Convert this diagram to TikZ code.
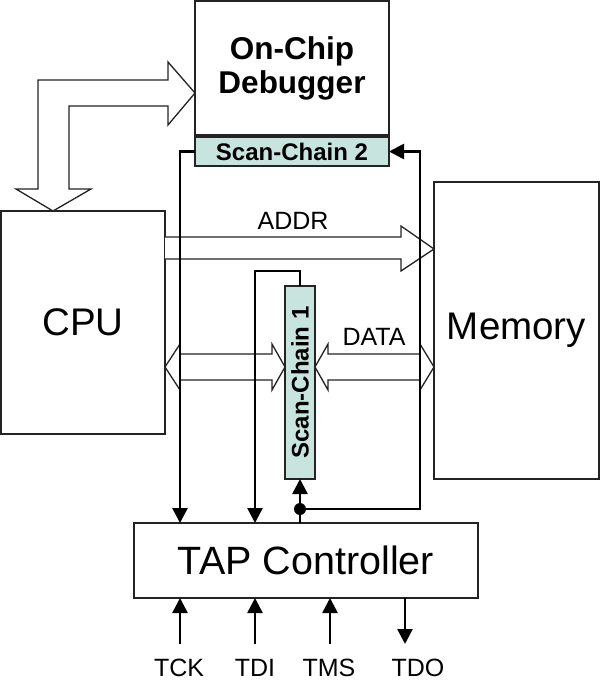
\documentclass[tikz,border=0pt]{standalone}
\usepackage{fontspec}
\setmainfont{Liberation Sans}
\usetikzlibrary{arrows.meta,calc}
\definecolor{scanfill}{RGB}{200,228,222}
\definecolor{edge}{RGB}{35,35,35}
\tikzset{
  box/.style={draw=edge, line width=1.3pt, fill=white, inner sep=0pt, outer sep=0pt},
  scanbox/.style={draw=edge, line width=1.3pt, fill=scanfill, inner sep=0pt, outer sep=0pt, font=\fontsize{24}{26}\selectfont\bfseries},
  bigtext/.style={font=\fontsize{38.5}{40}\selectfont},
  lbl/.style={font=\fontsize{25}{27}\selectfont, inner sep=0pt},
  blockarrow/.style={draw=edge, line width=1.3pt, fill=white, line join=miter},
  sig/.style={draw=black, line width=2.6pt, -{Triangle[length=15pt,width=15pt]}},
}
\begin{document}
\begin{tikzpicture}[x=1pt,y=-1pt]
\useasboundingbox (0,0) rectangle (603,694);
% boxes
\node[box, bigtext, minimum width=164, minimum height=223] (cpu) at (83,322.5) {CPU};
\node[box, bigtext, minimum width=165, minimum height=297] (mem) at (516.5,330.5) {Memory};
\node[box, minimum width=194, minimum height=134, align=center,
      font=\fontsize{31.5}{34}\selectfont\bfseries] (dbg) at (292,68) {On-Chip\\Debugger};
\node[scanbox, minimum width=194, minimum height=29] (sc2) at (292,151.5) {Scan-Chain 2};
\node[scanbox, minimum width=193, minimum height=30, rotate=90] (sc1) at (300,382.5) {Scan-Chain 1};
\node[box, font=\fontsize{39.5}{41}\selectfont, minimum width=344, minimum height=75] (tap) at (306,560.5) {TAP Controller};

% bent block arrow CPU <-> Debugger
\draw[blockarrow] (38,189) -- (38,80) -- (168,80) -- (168,62) -- (dbg.west |- 0,93) -- (168,125) -- (168,106)
  -- (69,106) -- (69,189) -- (91,189) -- (cpu.north -| 53,0) -- (16,189) -- cycle;
% ADDR block arrow
\draw[blockarrow] (cpu.east |- 0,237) -- (401,237) -- (401,226) -- (mem.west |- 0,249) -- (401,271) -- (401,259) -- (cpu.east |- 0,259);
% DATA block arrows
\draw[blockarrow] (cpu.east |- 0,367) -- (180,344) -- (180,354) -- (272,354) -- (272,344) -- (sc1.north |- 0,367)
  -- (272,390) -- (272,380) -- (180,380) -- (180,390) -- cycle;
\draw[blockarrow] (sc1.south |- 0,367) -- (328,344) -- (328,354) -- (420,354) -- (420,344) -- (mem.west |- 0,367)
  -- (420,390) -- (420,380) -- (328,380) -- (328,390) -- cycle;
\node[lbl] (addr) at (293,221) {ADDR};
\node[lbl] (data) at (374,337) {DATA};

% scan signal lines
\coordinate (xa) at (180,0);
\coordinate (xb) at (255,271);
\coordinate (xr) at (420,151.5);
\coordinate (dot) at (300,509);
\draw[sig] (sc2.west) -| (tap.north -| xa);
\draw[sig] (sc1.east) |- (xb) -- (tap.north -| xb);
\draw[sig] (tap.north -| sc1.east) -- (sc1.west);
\draw[sig] (dot) -| (xr) -- (sc2.east);
\fill (dot) circle (6);

% JTAG pins
\coordinate (tck) at (180,644);
\coordinate (tdi) at (255,644);
\coordinate (tms) at (330,644);
\coordinate (tdo) at (405,644);
\draw[sig] (tck) -- (tap.south -| tck);
\draw[sig] (tdi) -- (tap.south -| tdi);
\draw[sig] (tms) -- (tap.south -| tms);
\draw[sig] (tap.south -| tdo) -- (tdo);
\node[lbl] (ltck) at (179,668) {TCK};
\node[lbl] (ltdi) at (255,668) {TDI};
\node[lbl] (ltms) at (329,668) {TMS};
\node[lbl] (ltdo) at (418,668) {TDO};
\end{tikzpicture}
\end{document}
